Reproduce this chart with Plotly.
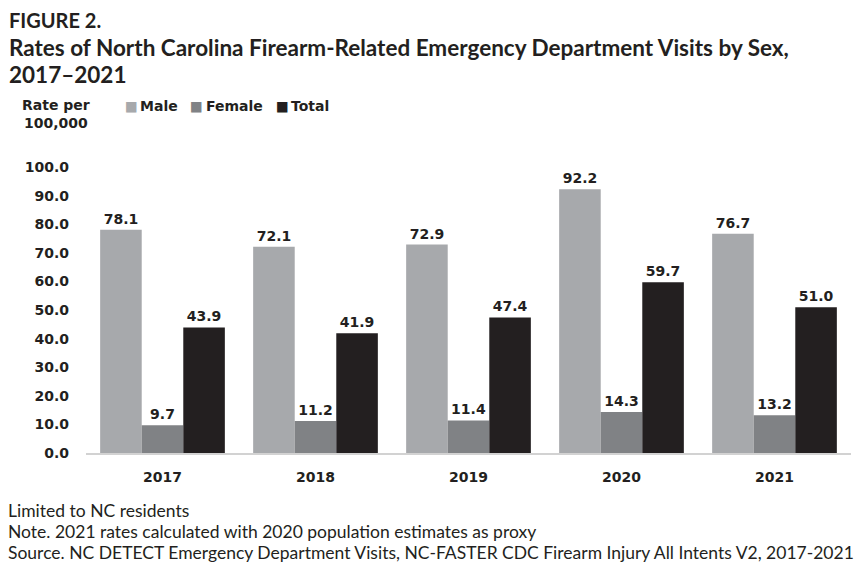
import plotly.graph_objects as go

years = ["2017", "2018", "2019", "2020", "2021"]
male = [78.1, 72.1, 72.9, 92.2, 76.7]
female = [9.7, 11.2, 11.4, 14.3, 13.2]
total = [43.9, 41.9, 47.4, 59.7, 51.0]
y_ticks = [0, 10, 20, 30, 40, 50, 60, 70, 80, 90, 100]
series_names = ["Male", "Female", "Total"]
series_colors = ["#a7a9ac", "#808285", "#231f20"]

# The page body adds an 8px margin; size the figure so it fills the window.
OFF = 8
W, H = 863 - OFF, 569 - OFF
L, R, T, B = 86 - OFF, 12, 167 - OFF, 116
PW, PH = W - L - R, H - T - B

def px(x):  # screen x -> paper
    return (x - OFF - L) / PW

def py(y):  # screen y -> paper
    return (H - B - (y - OFF)) / PH

BOLD = "DejaVu Sans"
TXT = "#231f20"
bold14 = dict(family=BOLD, size=14, color=TXT, weight="bold")

fig = go.Figure()
for name, vals, col in zip(series_names, [male, female, total], series_colors):
    fig.add_trace(go.Bar(
        name=name, x=years, y=vals, marker=dict(color=col, line=dict(width=0)),
        text=[f"{v:.1f}" for v in vals], textposition="outside",
        textfont=bold14, cliponaxis=False, showlegend=False,
    ))

fig.update_layout(
    width=W, height=H,
    margin=dict(l=L, r=R, t=T, b=B, autoexpand=False),
    paper_bgcolor="white", plot_bgcolor="white",
    barmode="group", bargap=0.185, bargroupgap=0,
    showlegend=False,
    xaxis=dict(showgrid=False, showline=True, linecolor="#d2d2d2", linewidth=2,
               ticks="", tickfont=bold14, ticklabelstandoff=10),
    yaxis=dict(range=[0, 100], tickvals=y_ticks, ticktext=[f"{v:.1f}" for v in y_ticks],
               showgrid=False, zeroline=False, showline=False, ticks="",
               tickfont=bold14, ticklabelstandoff=16),
)

def note(text, x, y, size, family, color=TXT, bold=False, xanchor="left", align="left"):
    fig.add_annotation(
        text=text, xref="paper", yref="paper", x=px(x), y=py(y),
        xanchor=xanchor, yanchor="middle", showarrow=False, align=align,
        font=dict(family=family, size=size, color=color,
                  weight="bold" if bold else "normal"),
    )

# titles
note("FIGURE 2.", 7, 20, 20, "Lato", bold=True)
note("Rates of North Carolina Firearm-Related Emergency Department Visits by Sex,", 7, 47.5, 22.5, "Lato", bold=True)
note("2017–2021", 7, 74.5, 22.5, "Lato", bold=True)

# axis title
note("Rate per<br>100,000", 56, 114, 14, BOLD, bold=True, xanchor="center", align="center")

# legend (squares + labels)
legend_sq_x = [124, 189, 275]
legend_txt_x = [139, 205, 290]
for name, col, sx, tx in zip(series_names, series_colors, legend_sq_x, legend_txt_x):
    note("■", sx - 1, 106, 13.5, BOLD, color=col)
    note(name, tx - 1, 106, 14, BOLD, bold=True)

# footnotes
note("Limited to NC residents", 6, 510, 17.5, "Lato")
note("Note. 2021 rates calculated with 2020 population estimates as proxy", 6, 531, 17.5, "Lato")
note("Source. NC DETECT Emergency Department Visits, NC-FASTER CDC Firearm Injury All Intents V2, 2017-2021", 6, 552, 17.5, "Lato")

fig.write_html("out.html")
